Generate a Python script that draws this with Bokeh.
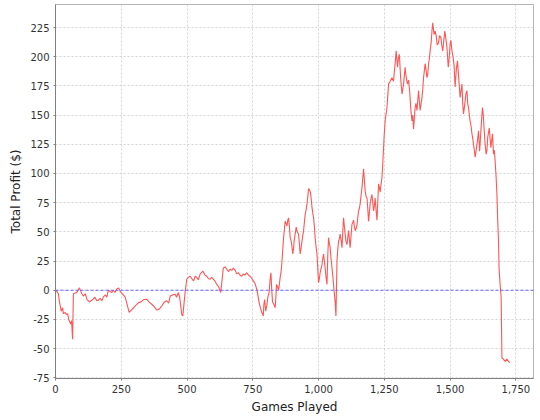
from bokeh.plotting import figure
from bokeh.models import Range1d, Span, NumeralTickFormatter, SingleIntervalTicker, ColumnDataSource
from bokeh.embed import file_html
from bokeh.resources import INLINE

# main readings of the curve (games played, total profit $)
games = [0, 11, 22, 37, 50, 58, 65, 68, 81, 91, 100, 113, 129, 144, 163, 182, 201, 214, 233, 246,
         265, 280, 297, 316, 347, 366, 385, 404, 423, 436, 455, 467, 480, 484, 493, 499, 505, 512, 525, 537,
         550, 560, 575, 588, 600, 613, 628, 638, 651, 664, 676, 689, 708, 727, 740, 752, 765, 774, 784, 790,
         795, 803, 808, 819, 825, 835, 840, 848, 854, 860, 867, 873, 880, 886, 892, 898, 902, 907, 915, 924,
         930, 937, 943, 949, 956, 962, 969, 975, 981, 987, 994, 998, 1000, 1006, 1013, 1019, 1025, 1032, 1038, 1044,
         1051, 1059, 1066, 1070, 1076, 1082, 1089, 1095, 1101, 1108, 1114, 1120, 1127, 1133, 1139, 1146, 1152, 1158, 1165, 1171,
         1177, 1184, 1190, 1196, 1203, 1209, 1215, 1222, 1228, 1234, 1241, 1244, 1249, 1253, 1260, 1266, 1272, 1279, 1285, 1291,
         1295, 1300, 1307, 1312, 1317, 1323, 1329, 1333, 1338, 1346, 1351, 1355, 1361, 1367, 1374, 1380, 1386, 1393, 1399, 1405,
         1412, 1418, 1424, 1431, 1434, 1439, 1447, 1456, 1465, 1472, 1480, 1488, 1493, 1500, 1507, 1515, 1519, 1528, 1532, 1538,
         1545, 1551, 1557, 1564, 1570, 1576, 1583, 1589, 1595, 1602, 1608, 1612, 1617, 1623, 1629, 1637, 1643, 1649, 1655, 1661,
         1665, 1671, 1675, 1678, 1681, 1684, 1686, 1690, 1694, 1697, 1703, 1709, 1716, 1722, 1727]

profit = [0, -3, -18, -19, -25, -29, -42, -3, -2, 2, -3, -3, -10, -7.5, -8.5, -5.7, 0, -2, 1, -1,
          -6, -19, -15, -10.6, -7.7, -12, -17, -13.5, -9, -5, -3.4, -2, -21, -22, -1, 9.4, 11, 12, 8, 11,
          14, 16.5, 12, 9.4, 9.4, 5, -2, 19, 18, 18, 19, 14, 12, 15, 12, 8, 1, -10.6, -19, -22,
          -8, -13.5, -5, 15, -10, -15, 5, 0, 11, 22, 45, 59, 55, 62, 45, 39, 31, 42, 54, 48,
          31, 42, 51, 65, 74, 87, 84, 71, 62, 45, 31, 14, 6.5, 15, 22, 31, 19, 5, 45, 36.5,
          19, -0.6, -22, 25, 42, 48, 36.5, 62, 48, 39, 51, 36.5, 56.5, 60, 51, 56, 68, 74, 88, 104,
          85, 79, 59, 74, 82, 68, 79, 60, 91, 84, 96.5, 108, 131, 145, 156.5, 176.5, 179, 182, 179, 194,
          205, 191, 202, 182, 168, 176.5, 191, 182, 176.5, 171, 154, 145, 138, 156.5, 154, 171, 154, 165, 182, 194,
          182, 194, 205, 222, 229, 219, 218, 212, 216.5, 205, 222, 208, 191, 211, 205, 193, 174, 196.5, 184, 165,
          176.5, 151, 162, 171, 156.5, 145, 134, 125, 114, 125, 136.5, 119, 136.5, 156.5, 139, 116.5, 131, 139, 122, 134,
          116.5, 111, 96.5, 82, 59, 42, 19, 5, -6, -58, -59, -61, -59, -61, -62]

# finer jagged readings between the main ones
games_detail = [5, 15, 27, 30, 42, 46, 54, 61,
                106, 120, 135, 150, 157, 170, 176, 190, 195, 207, 220, 226, 240,
                288, 305, 325, 335, 355, 375, 395, 414, 430, 445, 460, 472,
                518, 531, 543, 555, 568, 581, 594, 606, 620, 645, 657, 670, 683, 695, 701, 714, 720, 733, 746, 758,
                770, 779, 787, 792, 799, 806, 812, 816, 822, 830, 838, 844, 851, 857,
                870, 877, 883, 889, 895, 905, 911, 919, 927, 934, 940, 946, 952, 959, 965, 972, 978, 984, 990,
                1003, 1009, 1016, 1022, 1028, 1035, 1041, 1047, 1055, 1063, 1073, 1079, 1086, 1092, 1098, 1104,
                1111, 1117, 1124, 1130, 1136, 1143, 1149, 1155, 1161, 1168, 1174, 1181, 1187, 1193, 1199, 1206,
                1212, 1218, 1225, 1231, 1237,
                1287, 1303, 1320, 1342, 1358, 1370, 1383, 1396, 1409, 1415, 1421, 1428, 1443, 1451, 1460, 1468,
                1476, 1484, 1497, 1503, 1511, 1524, 1541, 1548, 1554, 1560, 1567, 1573, 1580, 1586, 1592, 1598,
                1605, 1614, 1620, 1626, 1633, 1640, 1646, 1652, 1658, 1668]
profit_detail = [-1, -10, -15, -20, -21, -20, -27, -26,
                 -5, -8, -9, -6, -9, -7, -9, -4, -6, -1, 0, -2, 2,
                 -17, -13, -10, -8, -10, -14, -16, -10, -11, -4, -6, -6,
                 10, 12, 9, 15, 13, 10, 11, 8, 3, 20, 16, 17, 17, 15, 13, 14, 13, 13, 10, 6,
                 -5, -15, -20, -12, -18, -8, -2, 10, 0, -12, -5, 3, 5, 15,
                 52, 57, 60, 55, 43, 36, 48, 50, 40, 37, 47, 58, 68, 80, 86, 78, 66, 55, 38,
                 10, 18, 27, 25, 12, 30, 40, 28, 10, -10, 35, 44, 42, 50, 55, 42,
                 45, 44, 48, 58, 55, 53, 62, 70, 80, 96, 95, 80, 70, 66, 78, 75,
                 72, 70, 75, 88, 90,
                 185, 198, 172, 180, 150, 160, 162, 172, 188, 185, 198, 212, 222, 210, 218, 210,
                 214, 215, 200, 214, 200, 190, 170, 160, 156, 168, 160, 150, 140, 130, 120, 118,
                 130, 125, 147, 150, 125, 120, 135, 130, 128, 120]

x_ticks_interval = 250
y_ticks_interval = 25

pairs = sorted(zip(games + games_detail, profit + profit_detail))
source = ColumnDataSource(data=dict(games=[g for g, _ in pairs], profit=[v for _, v in pairs]))

p = figure(frame_width=478, frame_height=374,
           x_range=Range1d(0, 1817), y_range=Range1d(-75.6, 244.7),
           output_backend="svg", toolbar_location=None,
           min_border_left=55, min_border_top=4, min_border_right=5, min_border_bottom=0,
           background_fill_color="white", border_fill_color="white")

p.line("games", "profit", source=source, line_color="#ff5555", line_width=1.1)

p.add_layout(Span(location=0, dimension="width", line_color="#6464ff",
                  line_dash="3 2", line_width=1))

p.xaxis.ticker = SingleIntervalTicker(interval=x_ticks_interval)
p.yaxis.ticker = SingleIntervalTicker(interval=y_ticks_interval)
p.xaxis.formatter = NumeralTickFormatter(format="0,0")
p.yaxis.formatter = NumeralTickFormatter(format="0,0")

p.xaxis.axis_label = "Games Played"
p.yaxis.axis_label = "Total Profit ($)"

for ax in (p.xaxis, p.yaxis):
    ax.axis_label_text_font = "DejaVu Sans"
    ax.axis_label_text_font_size = "12px"
    ax.axis_label_text_font_style = "normal"
    ax.axis_label_text_color = "#222222"
    ax.major_label_text_font = "DejaVu Sans"
    ax.major_label_text_font_size = "10px"
    ax.major_label_text_color = "#333333"
    ax.axis_line_color = "#808080"
    ax.major_tick_line_color = "#808080"
    ax.major_tick_out = 2
    ax.major_tick_in = 0
    ax.minor_tick_out = 0
    ax.minor_tick_in = 0
    ax.major_label_standoff = 4
    ax.axis_label_standoff = 4

p.xgrid.grid_line_color = "#d4d4d4"
p.xgrid.grid_line_dash = "2 2"
p.ygrid.grid_line_color = "#d4d4d4"
p.ygrid.grid_line_dash = "2 2"

p.outline_line_color = "#b4b4b4"
p.outline_line_width = 1

open("out.html", "w").write(file_html(p, INLINE))
